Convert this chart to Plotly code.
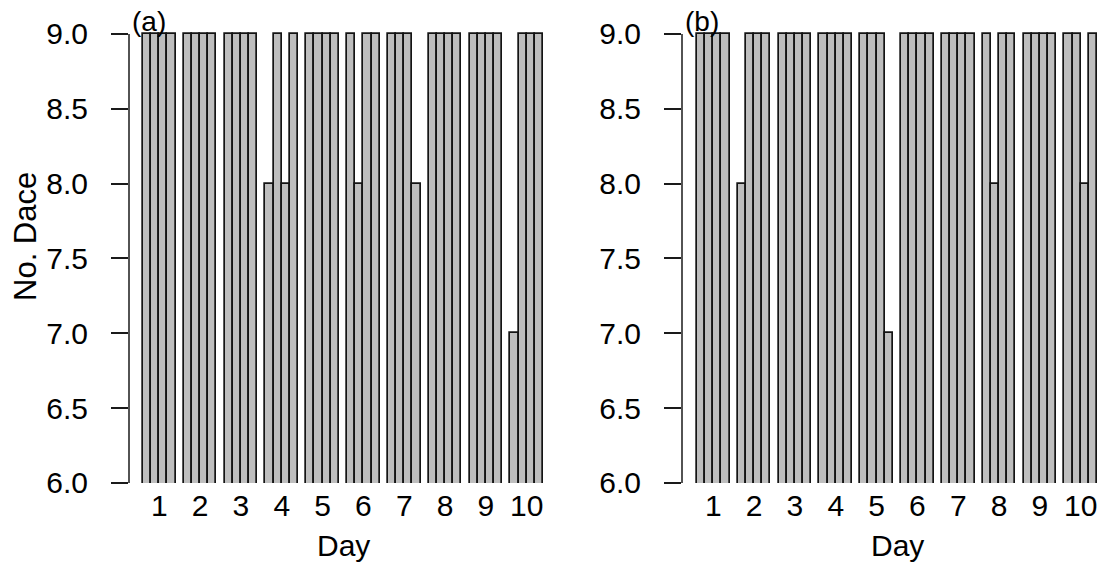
import plotly.graph_objects as go

# Number of dace counted in each of four replicates per day
days = [1, 2, 3, 4, 5, 6, 7, 8, 9, 10]
counts_a = [
    [9, 9, 9, 9], [9, 9, 9, 9], [9, 9, 9, 9], [8, 9, 8, 9], [9, 9, 9, 9],
    [9, 8, 9, 9], [9, 9, 9, 8], [9, 9, 9, 9], [9, 9, 9, 9], [7, 9, 9, 9],
]
counts_b = [
    [9, 9, 9, 9], [8, 9, 9, 9], [9, 9, 9, 9], [9, 9, 9, 9], [9, 9, 9, 7],
    [9, 9, 9, 9], [9, 9, 9, 9], [9, 8, 9, 9], [9, 9, 9, 9], [9, 9, 8, 9],
]
y_ticks = [6.0, 6.5, 7.0, 7.5, 8.0, 8.5, 9.0]
panel_labels = ["(a)", "(b)"]

W, H = 1105, 567
FONT = "Liberation Sans, Arial, sans-serif"
FS = 30
REPS = 4
GROUP = REPS + 1  # one empty bar-width between days


def bar_positions(n_days):
    xs = []
    for g in range(n_days):
        for j in range(REPS):
            xs.append(GROUP * g + 1.5 + j)
    return xs


def day_centres(n_days):
    return [GROUP * g + 1 + REPS / 2 for g in range(n_days)]


fig = go.Figure()

# pixel geometry of the two panels
panels = [
    dict(data=counts_a, left=129, right=545, xaxis="x", yaxis="y"),
    dict(data=counts_b, left=682, right=1099, xaxis="x2", yaxis="y2"),
]
px_per_unit = 400 / 49.0
bottom_px, top_px = 483, 34
y_lo, y_hi = 6.0, 9.02
px_per_y = (bottom_px - top_px) / 3.0
dom_y = [(H - bottom_px) / H, (H - (bottom_px - (y_hi - y_lo) * px_per_y)) / H]

for i, p in enumerate(panels):
    flat = [v for day in p["data"] for v in day]
    xs = bar_positions(len(days))
    fig.add_trace(go.Bar(
        x=xs, y=flat, width=[1.0] * len(xs),
        marker=dict(color="#bebebe", line=dict(color="#141414", width=1.7)),
        xaxis=p["xaxis"], yaxis=p["yaxis"], showlegend=False,
        hoverinfo="x+y",
    ))

    bar_left = p["left"] + (14 if i == 0 else 15)
    x0 = 1 - (bar_left - p["left"]) / px_per_unit
    x1 = 50 + (p["right"] - (bar_left + 400)) / px_per_unit
    suffix = "" if i == 0 else "2"
    fig.layout["xaxis" + suffix] = dict(
        domain=[p["left"] / W, p["right"] / W],
        range=[x0, x1], showgrid=False, zeroline=False, showline=False,
        tickmode="array", tickvals=day_centres(len(days)),
        ticktext=[str(d) for d in days], ticks="",
        tickfont=dict(family=FONT, size=FS, color="black"),
        ticklabelstandoff=2, automargin=False,
        anchor="y" + suffix, fixedrange=True,
    )
    fig.layout["yaxis" + suffix] = dict(
        domain=dom_y, range=[y_lo, y_hi], showgrid=False, zeroline=False,
        showline=False, tickmode="array", tickvals=y_ticks,
        ticktext=[f"{t:.1f}" for t in y_ticks],
        ticks="outside", ticklen=17, tickwidth=1.5, tickcolor="#1a1a1a",
        tickfont=dict(family=FONT, size=FS, color="black"),
        ticklabelstandoff=17, automargin=False,
        anchor="x" + suffix, fixedrange=True,
    )
    # y axis spine from 6 to 9
    fig.add_shape(type="line", xref=f"x{suffix} domain", yref="y" + suffix,
                  x0=0, x1=0, y0=6, y1=9,
                  line=dict(color="#1a1a1a", width=1.5))
    # panel label
    fig.add_annotation(text=panel_labels[i], xref="paper", yref="paper",
                       x=(p["left"] + 1) / W, y=(H - 21) / H,
                       xanchor="left", yanchor="middle", showarrow=False,
                       font=dict(family=FONT, size=FS - 2, color="black"))
    # x axis title
    centre_px = bar_left + 200
    fig.add_annotation(text="Day", xref="paper", yref="paper",
                       x=centre_px / W, y=(H - 545) / H,
                       xanchor="center", yanchor="middle", showarrow=False,
                       font=dict(family=FONT, size=FS, color="black"))

fig.add_annotation(text="No. Dace", xref="paper", yref="paper",
                   x=25 / W, y=(H - 237) / H, textangle=-90,
                   xanchor="center", yanchor="middle", showarrow=False,
                   font=dict(family=FONT, size=FS + 1, color="black"))

fig.update_layout(
    width=W, height=H, margin=dict(l=0, r=0, t=0, b=0, autoexpand=False),
    paper_bgcolor="white", plot_bgcolor="white",
    barmode="overlay", bargap=0,
)

fig.write_html("out.html", config={"displayModeBar": False})
